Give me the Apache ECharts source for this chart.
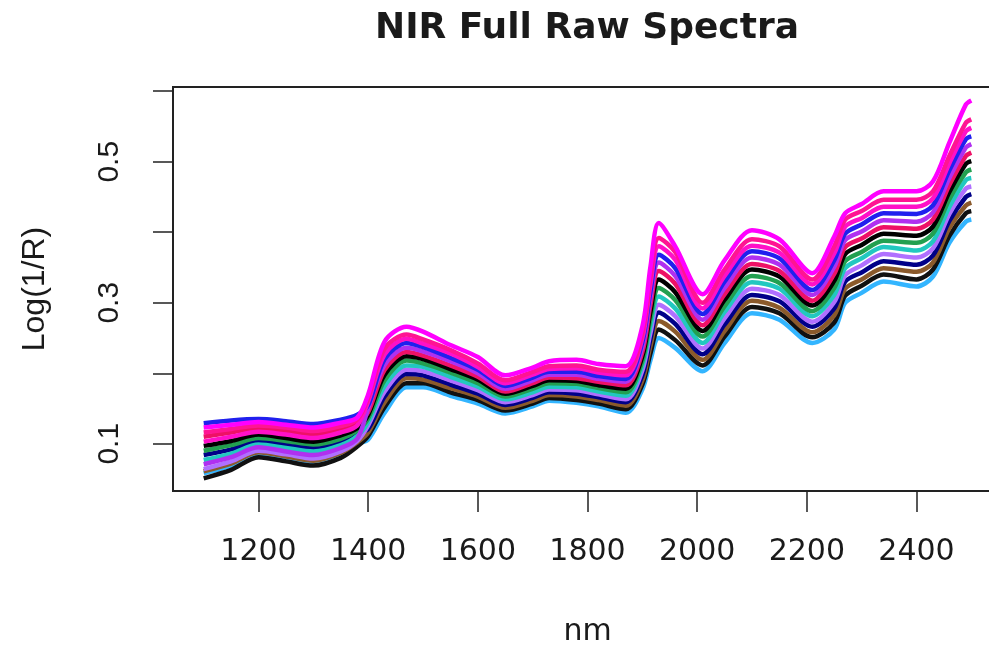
<!DOCTYPE html>
<html>
<head>
<meta charset="utf-8">
<title>NIR Full Raw Spectra</title>
<script src="https://cdn.jsdelivr.net/npm/echarts@6/dist/echarts.min.js"></script>
<style>
  html, body { margin: 0; padding: 0; background: #fff; }
  #chart { width: 989px; height: 649px; }
</style>
</head>
<body>
<div id="chart"></div>
<script>
var wavelengths = [1100, 1150, 1200, 1250, 1300, 1350, 1380, 1400, 1430, 1470, 1500, 1550, 1600, 1650, 1700, 1730, 1780, 1820, 1870, 1900, 1915, 1930, 1960, 2010, 2050, 2100, 2150, 2210, 2250, 2270, 2300, 2340, 2400, 2430, 2460, 2490, 2500];

// Log(1/R) per spectrum
var specDeepPink = [.116,.121,.126,.123,.118,.125,.134,.165,.235,.255,.248,.233,.214,.190,.202,.210,.211,.205,.202,.257,.337,.392,.372,.300,.347,.390,.380,.333,.380,.418,.430,.446,.446,.458,.508,.555,.560];
var specPink = [.103,.110,.117,.113,.108,.116,.126,.160,.227,.249,.242,.228,.209,.186,.198,.206,.207,.201,.197,.250,.327,.380,.361,.292,.338,.381,.371,.326,.370,.408,.420,.436,.436,.448,.498,.543,.548];
var specBlue = [.129,.133,.135,.132,.128,.134,.141,.155,.220,.243,.237,.222,.205,.182,.194,.202,.202,.196,.192,.244,.317,.368,.349,.284,.330,.373,.363,.318,.360,.398,.411,.427,.426,.438,.488,.532,.536];
var specPurple = [.071,.081,.095,.089,.084,.094,.107,.150,.212,.236,.231,.217,.200,.178,.190,.198,.198,.192,.188,.237,.308,.357,.338,.276,.321,.364,.354,.311,.351,.389,.401,.417,.415,.428,.477,.520,.525];
var specRed = [.110,.116,.122,.118,.113,.121,.130,.145,.205,.230,.225,.211,.195,.174,.186,.194,.193,.188,.183,.230,.298,.345,.327,.268,.312,.355,.345,.303,.341,.379,.391,.407,.405,.418,.467,.508,.513];
var specBlack1 = [.097,.104,.113,.108,.103,.112,.122,.141,.198,.224,.220,.206,.191,.171,.182,.190,.189,.183,.178,.224,.288,.333,.315,.260,.304,.347,.337,.296,.331,.369,.382,.398,.395,.408,.457,.497,.501];
var specGreen = [.090,.098,.108,.104,.099,.107,.119,.136,.190,.218,.214,.201,.186,.167,.178,.186,.185,.179,.173,.217,.278,.321,.304,.252,.295,.338,.328,.288,.321,.359,.372,.388,.385,.398,.447,.485,.489];
var specCyan = [.077,.086,.099,.094,.089,.098,.111,.131,.182,.211,.209,.195,.181,.163,.173,.181,.180,.174,.168,.211,.268,.309,.292,.243,.287,.329,.320,.281,.311,.349,.363,.379,.374,.387,.436,.474,.477];
var specViolet = [.064,.075,.090,.085,.079,.089,.104,.126,.174,.205,.203,.190,.176,.159,.169,.177,.176,.170,.163,.204,.258,.297,.281,.235,.278,.320,.311,.273,.301,.339,.353,.369,.364,.377,.426,.462,.465];
var specNavy = [.084,.092,.104,.099,.094,.103,.115,.121,.167,.199,.197,.184,.171,.155,.165,.173,.171,.166,.159,.197,.249,.286,.270,.227,.269,.311,.302,.266,.292,.330,.343,.359,.354,.367,.416,.450,.454];
var specBrown = [.061,.072,.088,.082,.076,.087,.102,.116,.159,.193,.191,.179,.167,.151,.161,.169,.167,.162,.154,.190,.239,.274,.259,.219,.260,.303,.293,.258,.282,.320,.333,.349,.344,.357,.406,.438,.442];
var specBlack2 = [.051,.063,.081,.075,.069,.080,.096,.111,.152,.186,.186,.173,.162,.147,.157,.165,.162,.157,.149,.184,.229,.262,.247,.211,.252,.294,.285,.251,.272,.310,.324,.340,.333,.347,.395,.427,.430];
var specLightBlue = [.058,.069,.086,.080,.074,.085,.100,.106,.144,.180,.180,.168,.157,.143,.153,.161,.158,.153,.144,.177,.219,.250,.236,.203,.243,.285,.276,.243,.262,.300,.314,.330,.323,.337,.385,.415,.418];
var specMagenta = [.123,.127,.131,.127,.123,.130,.137,.170,.245,.266,.259,.240,.223,.197,.208,.217,.219,.213,.210,.266,.352,.413,.380,.312,.360,.403,.390,.342,.394,.427,.440,.458,.458,.472,.527,.581,.587];

// tick labels
var xTicks = [1200, 1400, 1600, 1800, 2000, 2200, 2400];
var yTicks = [0.1, 0.2, 0.3, 0.4, 0.5, 0.6];
var yLabels = [0.1, 0.3, 0.5];

(function () {
  const myChart = echarts.init(document.getElementById('chart'));

  const spectra = [
    { data: specLightBlue, color: '#33b5ff' },
    { data: specBlack2, color: '#111111' },
    { data: specBrown, color: '#8b5a2b' },
    { data: specNavy, color: '#000088' },
    { data: specViolet, color: '#b070ff' },
    { data: specCyan, color: '#22c8c0' },
    { data: specGreen, color: '#22a050' },
    { data: specBlack1, color: '#000000' },
    { data: specRed, color: '#ee1166' },
    { data: specPurple, color: '#b030f0' },
    { data: specBlue, color: '#2020ee' },
    { data: specPink, color: '#ff10c8' },
    { data: specDeepPink, color: '#ff1493' },
    { data: specMagenta, color: '#ff00ff' }
  ];

  const series = spectra.map(function (s) {
    return {
      type: 'line',
      data: wavelengths.map(function (w, i) { return [w, s.data[i]]; }),
      showSymbol: false,
      smooth: 0.3,
      silent: true,
      lineStyle: { color: s.color, width: 4.5 }
    };
  });

  const txt = '#1a1a1a';
  const option = {
    animation: false,
    title: {
      text: 'NIR Full Raw Spectra',
      left: 375,
      top: 11,
      padding: 0,
      textStyle: {
        fontFamily: 'DejaVu Sans',
        fontWeight: 'bold',
        fontSize: 36,
        color: txt
      }
    },
    grid: {
      left: 173,
      width: 829,
      top: 87,
      height: 404,
      outerBoundsMode: 'none',
      show: true,
      borderColor: '#222',
      borderWidth: 2
    },
    xAxis: {
      type: 'value',
      min: 1044,
      max: 2556,
      name: 'nm',
      nameLocation: 'middle',
      nameGap: 126,
      nameTextStyle: { fontFamily: 'DejaVu Sans', fontSize: 30, color: txt },
      axisLine: { show: true, lineStyle: { color: '#222', width: 2 } },
      axisTick: {
        show: true,
        length: 21,
        customValues: xTicks,
        lineStyle: { color: '#222', width: 1.5 }
      },
      axisLabel: {
        customValues: xTicks,
        margin: 46,
        fontFamily: 'DejaVu Sans',
        fontSize: 30,
        color: txt,
        formatter: function (v) { return String(v); }
      },
      splitLine: { show: false }
    },
    yAxis: {
      type: 'value',
      min: 0.033,
      max: 0.606,
      name: 'Log(1/R)',
      nameLocation: 'middle',
      nameRotate: 90,
      nameGap: 122,
      nameTextStyle: { fontFamily: 'Liberation Sans', fontSize: 32, color: txt },
      axisLine: { show: true, lineStyle: { color: '#222', width: 2 } },
      axisTick: {
        show: true,
        length: 20,
        customValues: yTicks,
        lineStyle: { color: '#222', width: 1.5 }
      },
      axisLabel: {
        customValues: yLabels,
        rotate: 90,
        margin: 48,
        fontFamily: 'Liberation Sans',
        fontSize: 30,
        color: txt,
        formatter: function (v) { return v.toFixed(1); }
      },
      splitLine: { show: false }
    },
    series: series
  };
  myChart.setOption(option);
})();
</script>
</body>
</html>
